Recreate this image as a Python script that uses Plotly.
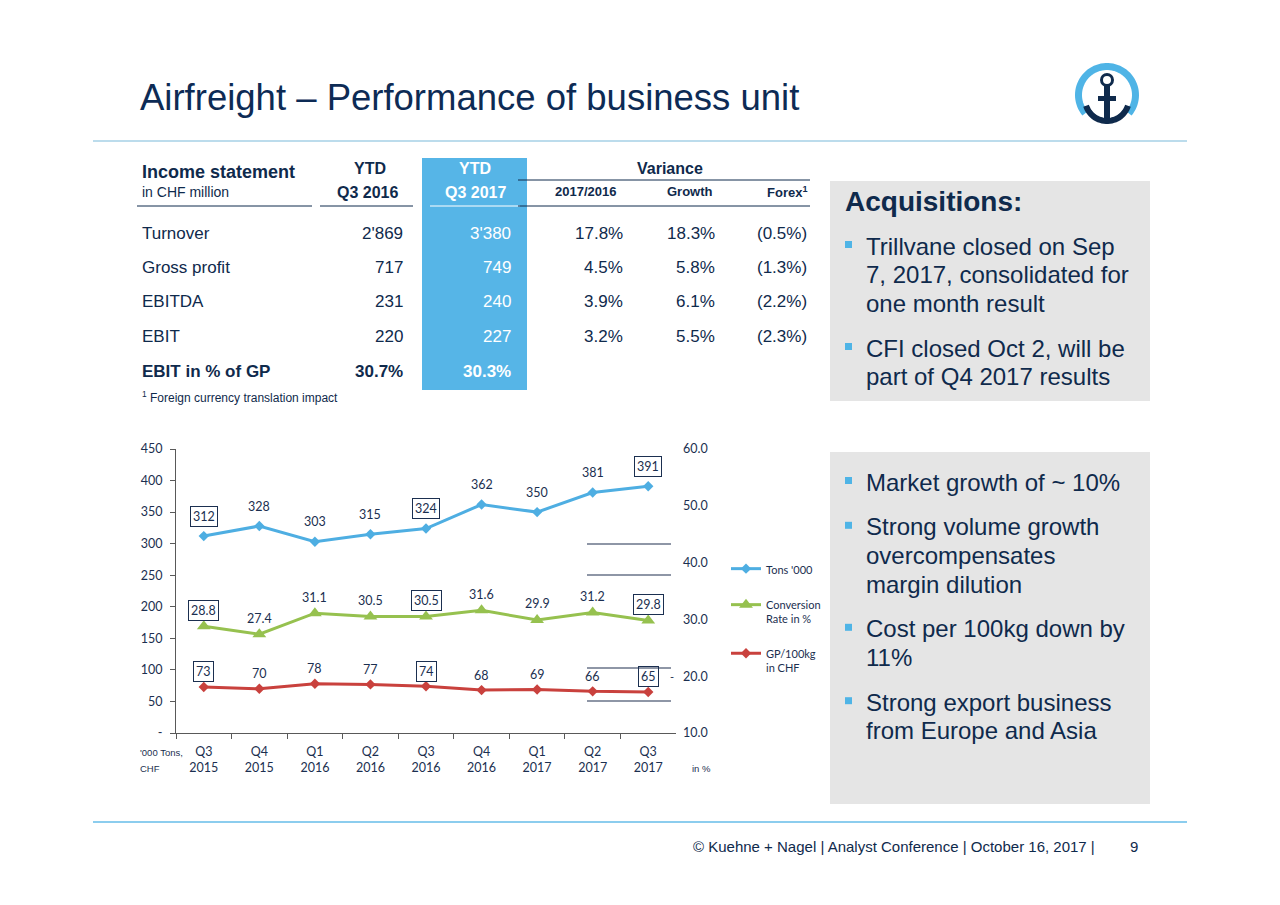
import numpy as np
import plotly.graph_objects as go

W, H = 1280, 905
NAVY = "#0f2a4c"
CHART_TXT = "#1b2f50"
SKY = "#56b5e7"
ARIAL = "Liberation Sans, Arial, sans-serif"
CAL = "Lato, Carlito, sans-serif"

# ---------------- data ----------------
quarters = ["Q3<br>2015", "Q4<br>2015", "Q1<br>2016", "Q2<br>2016", "Q3<br>2016",
            "Q4<br>2016", "Q1<br>2017", "Q2<br>2017", "Q3<br>2017"]
tons = [312, 328, 303, 315, 324, 362, 350, 381, 391]
conversion = [28.8, 27.4, 31.1, 30.5, 30.5, 31.6, 29.9, 31.2, 29.8]
gp_per_100kg = [73, 70, 78, 77, 74, 68, 69, 66, 65]
boxed_idx = [0, 4, 8]

left_ticks = [0, 50, 100, 150, 200, 250, 300, 350, 400, 450]
left_ticktext = ["-", "50", "100", "150", "200", "250", "300", "350", "400", "450"]
right_ticks = [10, 20, 30, 40, 50, 60]

rows = ["Turnover", "Gross profit", "EBITDA", "EBIT", "<b>EBIT in % of GP</b>"]
ytd16 = ["2'869", "717", "231", "220", "<b>30.7%</b>"]
ytd17 = ["3'380", "749", "240", "227", "<b>30.3%</b>"]
var_1716 = ["17.8%", "4.5%", "3.9%", "3.2%", ""]
growth = ["18.3%", "5.8%", "6.1%", "5.5%", ""]
forex = ["(0.5%)", "(1.3%)", "(2.2%)", "(2.3%)", ""]

acq_lines = [["Trillvane closed on Sep", "7, 2017, consolidated for", "one month result"],
             ["CFI closed Oct 2, will be", "part of Q4 2017 results"]]
mkt_lines = [["Market growth of ~ 10%"],
             ["Strong volume growth", "overcompensates", "margin dilution"],
             ["Cost per 100kg down by", "11%"],
             ["Strong export business", "from Europe and Asia"]]


def px(x):
    return x / W


def py(y):
    return 1 - y / H


annotations = []
shapes = []


def text(x, y, s, size, color=NAVY, anchor="left", family=ARIAL):
    if not s:
        return
    annotations.append(dict(x=px(x), y=py(y), xref="paper", yref="paper", text=s,
                            showarrow=False, xanchor=anchor, yanchor="middle",
                            font=dict(size=size, color=color, family=family)))


def line(x0, y0, x1, y1, color=NAVY, width=1):
    shapes.append(dict(type="line", xref="paper", yref="paper", x0=px(x0), y0=py(y0),
                       x1=px(x1), y1=py(y1), line=dict(color=color, width=width)))


def rect(x0, y0, x1, y1, fill):
    shapes.append(dict(type="rect", xref="paper", yref="paper", x0=px(x0), y0=py(y0),
                       x1=px(x1), y1=py(y1), fillcolor=fill, line=dict(width=0), layer="below"))


def polyline(pts, color, width):
    d = "M " + " L ".join(f"{px(a):.5f},{py(b):.5f}" for a, b in pts)
    shapes.append(dict(type="path", xref="paper", yref="paper", path=d,
                       line=dict(color=color, width=width)))


# ---------------- slide frame ----------------
text(138, 97, "Airfreight – Performance of business unit", 36.5, color="#0d2b55")
line(93, 141, 1187, 141, color="#a6d0e6", width=1.5)
line(93, 822, 1187, 822, color="#66bde9", width=1.5)
text(1097, 846, "© Kuehne + Nagel | Analyst Conference | October 16, 2017 |", 15, anchor="right")
text(1140, 846, "9", 15, anchor="right")

# logo
cx, cy = 1107, 95
ang = np.radians(np.linspace(-40, 220, 60))
polyline([(cx + 28.5 * np.cos(a), cy - 28.5 * np.sin(a)) for a in ang], "#4fb4e6", 7)
shapes.append(dict(type="circle", xref="paper", yref="paper", x0=px(1101.5), y0=py(74.5),
                   x1=px(1112.5), y1=py(85.5), line=dict(color="#0f2a4c", width=3)))
rect(1104, 86, 1110, 121, "#0f2a4c")
rect(1098, 96, 1116, 101, "#0f2a4c")
ang2 = np.radians(np.linspace(198, 342, 30))
polyline([(cx + 22 * np.cos(a), 99 - 22 * np.sin(a)) for a in ang2], "#0f2a4c", 6)

# ---------------- table ----------------
rect(422, 158, 527, 390, SKY)
text(140, 172, "<b>Income statement</b>", 18)
text(140, 192, "in CHF million", 14)
text(370, 168, "<b>YTD</b>", 16, anchor="center")
text(367, 193, "<b>Q3 2016</b>", 16, anchor="center")
text(475, 168, "<b>YTD</b>", 16, color="white", anchor="center")
text(475, 193, "<b>Q3 2017</b>", 16, color="white", anchor="center")
text(670, 168, "<b>Variance</b>", 16, anchor="center")
line(518, 180, 810, 180)
text(585, 192, "<b>2017/2016</b>", 13, anchor="center")
text(690, 192, "<b>Growth</b>", 13, anchor="center")
text(809, 192, "<b>Forex<sup>1</sup></b>", 13, anchor="right")
line(137, 206, 312, 206)
line(320, 206, 413, 206)
line(430, 206, 520, 206, color="white")
line(518, 206, 810, 206)

row_y = [233, 267, 301, 336, 371]
for i, yy in enumerate(row_y):
    text(140, yy, rows[i], 17)
    text(405, yy, ytd16[i], 17, anchor="right")
    text(513, yy, ytd17[i], 17, color="white", anchor="right")
    text(625, yy, var_1716[i], 17, anchor="right")
    text(717, yy, growth[i], 17, anchor="right")
    text(809, yy, forex[i], 17, anchor="right")
text(140, 397, "<sup>1</sup> Foreign currency translation impact", 12)

# ---------------- right panels ----------------
rect(830, 181, 1150, 401, "#e5e5e5")
rect(830, 452, 1150, 804, "#e5e5e5")
text(843, 201, "<b>Acquisitions:</b>", 28)


def bullets(groups, y_start, gap_line=28.6, gap_group=16.2):
    yy = y_start
    for g in groups:
        rect(845, yy - 5, 852, yy + 2, "#4fb4e6")
        for ln in g:
            text(864, yy, ln, 24)
            yy += gap_line
        yy += gap_group


bullets(acq_lines, 246)
bullets(mkt_lines, 482)

# ---------------- chart ----------------
fig = go.Figure()
fig.add_trace(go.Scatter(x=quarters, y=tons, mode="lines+markers", name="Tons '000",
                         legendgroup="a", line=dict(color="#4eaee2", width=3),
                         marker=dict(symbol="diamond", size=8, color="#4eaee2")))
fig.add_trace(go.Scatter(x=quarters, y=conversion, mode="lines+markers", yaxis="y2",
                         name="Conversion<br>Rate in %", legendgroup="b",
                         line=dict(color="#96c14f", width=3),
                         marker=dict(symbol="triangle-up", size=12, color="#96c14f")))
fig.add_trace(go.Scatter(x=quarters, y=gp_per_100kg, mode="lines+markers",
                         name="GP/100kg<br>in CHF", legendgroup="c",
                         line=dict(color="#c9413d", width=3),
                         marker=dict(symbol="diamond", size=8, color="#c9413d")))

series_labels = [(tons, "y", "{:.0f}", 20), (conversion, "y2", "{:.1f}", 16),
                 (gp_per_100kg, "y", "{:.0f}", 15)]
for vals, yref, fmt, shift in series_labels:
    for i, v in enumerate(vals):
        a = dict(x=quarters[i], y=v, xref="x", yref=yref, text=fmt.format(v),
                 showarrow=False, yshift=shift, yanchor="middle",
                 font=dict(size=12.5, color=CHART_TXT, family=CAL))
        if i in boxed_idx:
            a.update(bordercolor=CHART_TXT, borderwidth=1, borderpad=2)
        annotations.append(a)

# stray guide lines of the original slide
for yy in (544, 575, 668, 701):
    line(587, yy, 671, yy, color="#1f2f4f", width=1.2)
text(672, 676, "-", 11, color=CHART_TXT, anchor="center", family=CAL)
text(138, 752, "'000 Tons,", 9.5, color=CHART_TXT)
text(138, 768, "CHF", 9.5, color=CHART_TXT)
text(690, 768, "in %", 9.5, color=CHART_TXT)

axis_col = "#595959"
fig.update_layout(
    width=W, height=H, margin=dict(l=0, r=0, t=0, b=0, pad=0, autoexpand=False),
    paper_bgcolor="white", plot_bgcolor="rgba(0,0,0,0)",
    font=dict(family=CAL, color=CHART_TXT, size=12),
    xaxis=dict(domain=[px(176), px(676)], type="category", range=[-0.5, 8.5],
               showline=True, linecolor=axis_col, ticks="outside", tickson="boundaries",
               ticklen=5, tickcolor=axis_col, showgrid=False, zeroline=False,
               automargin=False, ticklabelstandoff=7,
               tickfont=dict(size=12.5, color=CHART_TXT, family=CAL)),
    yaxis=dict(domain=[py(733), py(449)], range=[0, 450], tickvals=left_ticks,
               ticktext=left_ticktext, showline=True, linecolor=axis_col, ticks="outside",
               ticklen=5, tickcolor=axis_col, showgrid=False, zeroline=False,
               automargin=False, ticklabelstandoff=5,
               tickfont=dict(size=12.5, color=CHART_TXT, family=CAL)),
    yaxis2=dict(overlaying="y", side="right", range=[10, 60], tickvals=right_ticks,
                tickformat=".1f", showline=False, showgrid=False, zeroline=False,
                automargin=False, ticklabelstandoff=6,
                tickfont=dict(size=12.5, color=CHART_TXT, family=CAL)),
    showlegend=True,
    legend=dict(x=px(726), y=py(555), xanchor="left", yanchor="top",
                bgcolor="rgba(0,0,0,0)", itemwidth=30, tracegroupgap=17,
                valign="top", font=dict(size=11, color=CHART_TXT, family=CAL)),
    annotations=annotations, shapes=shapes,
)

fig.write_html("out.html", config={"displayModeBar": False},
               post_script="document.body.style.margin='0px';")
